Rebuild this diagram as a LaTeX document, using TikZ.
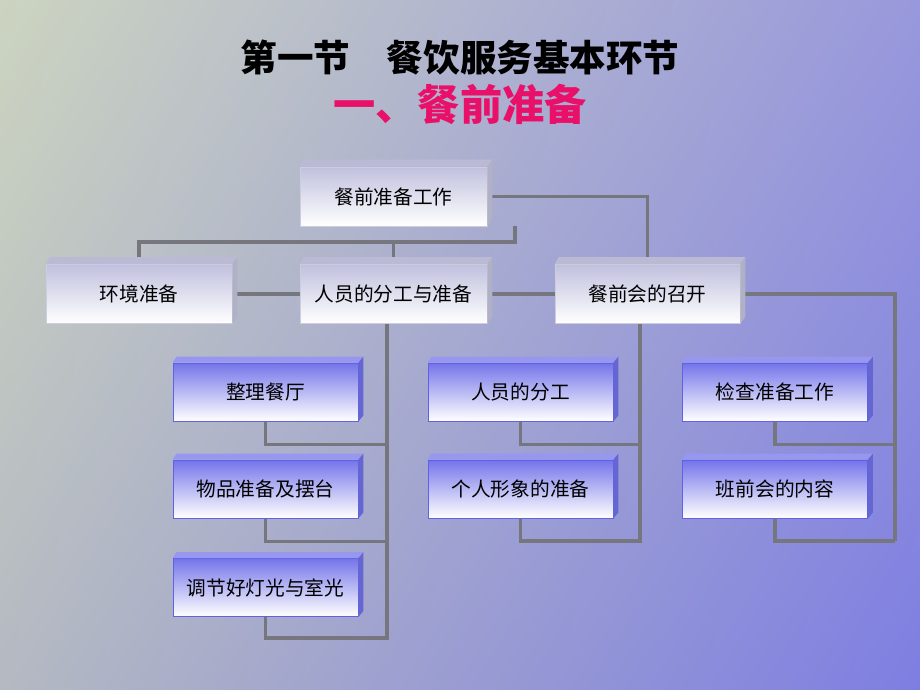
\documentclass[tikz,border=0pt]{standalone}
\usepackage{fontspec}
\usepackage{tikz}
\usetikzlibrary{calc,shadings}
\newfontfamily\cjk{Noto Sans CJK SC}

\definecolor{bgtl}{RGB}{204,212,192}
\definecolor{bgtr}{RGB}{152,152,220}
\definecolor{bgbl}{RGB}{180,185,194}
\definecolor{bgbr}{RGB}{126,126,226}
\definecolor{linkgray}{RGB}{118,118,126}
\definecolor{greytop}{RGB}{192,192,222}
\definecolor{greyedge}{RGB}{205,205,225}
\definecolor{bluetop}{RGB}{116,116,234}
\definecolor{blueedge}{RGB}{96,96,232}
\definecolor{titlered}{RGB}{232,16,104}

\pgfdeclarelayer{back}
\pgfdeclarelayer{wires}
\pgfsetlayers{back,wires,main}

\begin{document}
\begin{tikzpicture}[x=0.025cm,y=-0.025cm]
  \tikzstyle{greybox}=[draw=greyedge,line width=0.4pt,top color=greytop,bottom color=white,
    minimum width=187*0.025cm,minimum height=59*0.025cm,inner sep=0pt,font=\cjk\fontsize{14}{16}\selectfont]
  \tikzstyle{bluebox}=[draw=blueedge,line width=0.6pt,top color=bluetop,middle color=bluetop!45!white,bottom color=white,
    minimum width=185*0.025cm,minimum height=58*0.025cm,inner sep=0pt,font=\cjk\fontsize{14}{16}\selectfont]
  \tikzstyle{link}=[draw=linkgray,line width=2.4pt]

  \begin{pgfonlayer}{back}
    \shade[upper left=bgtl,upper right=bgtr,lower left=bgbl,lower right=bgbr] (0,0) rectangle (920,690);
  \end{pgfonlayer}

  \node[font=\cjk\bfseries\fontsize{26}{28}\selectfont] (title) at (460,58) {第一节\quad 餐饮服务基本环节};
  \node[font=\cjk\bfseries\fontsize{30}{32}\selectfont,text=titlered] (subtitle) at (460,104) {一、餐前准备};

  \draw (393.5,196.5) node[greybox] (top) {餐前准备工作};

  \draw (139,294) node[greybox,minimum width=186*0.025cm] (env) {环境准备};
  \draw (393.5,294) node[greybox] (staff) {人员的分工与准备};
  \draw (647.5,294) node[greybox,minimum width=185*0.025cm] (meet) {餐前会的召开};

  \draw (265.5,392) node[bluebox] (tidy) {整理餐厅};
  \draw (265.5,489) node[bluebox] (goods) {物品准备及摆台};
  \draw (265.5,587.5) node[bluebox] (light) {调节好灯光与室光};

  \draw (520.5,392) node[bluebox] (duty) {人员的分工};
  \draw (520.5,489) node[bluebox] (look) {个人形象的准备};

  \draw (775,392) node[bluebox] (check) {检查准备工作};
  \draw (775,489) node[bluebox] (brief) {班前会的内容};

  % 3d edges of the boxes
  \foreach \n in {top,env,staff,meet} {
    \fill[greytop!90!gray] (\n.north west) -- ++(4,-7) -- ($(\n.north east)+(5,-7)$) -- (\n.north east) -- cycle;
    \fill[greytop!75!gray] (\n.north east) -- ++(5,-7) -- ($(\n.south east)+(5,-7)$) -- (\n.south east) -- cycle;
  }
  \foreach \n in {tidy,goods,light,duty,look,check,brief} {
    \fill[bluetop!75!white] (\n.north west) -- ++(4,-6) -- ($(\n.north east)+(5,-6)$) -- (\n.north east) -- cycle;
    \fill[blueedge!80!gray] (\n.north east) -- ++(5,-6) -- ($(\n.south east)+(5,-6)$) -- (\n.south east) -- cycle;
  }

  \coordinate (j1) at (515,242);
  \coordinate (tl) at (387,638);
  \coordinate (tm) at (640,541);
  \coordinate (tr) at (895,541);

  \begin{pgfonlayer}{wires}
    \path[link] (env.north) |- (j1) -- (top.south -| j1);
    \path[link] (staff.north) -- (staff.north |- j1);
    \path[link] (top.east) -| (meet.north);

    \path[link] (env.east) -- (staff.west);
    \path[link] (staff.east) -- (meet.west);
    \path[link] (meet.east) -| (tr);

    \path[link] (staff.south -| tl) -- (tl) -| (light.south);
    \path[link] (tidy.south) -- ++(0,23) -| (tl);
    \path[link] (goods.south) -- ++(0,23) -| (tl);

    \path[link] (meet.south -| tm) -- (tm) -| (look.south);
    \path[link] (duty.south) -- ++(0,23) -| (tm);

    \path[link] (tr) -| (brief.south);
    \path[link] (check.south) -- ++(0,23) -| (tr);
  \end{pgfonlayer}
\end{tikzpicture}
\end{document}
